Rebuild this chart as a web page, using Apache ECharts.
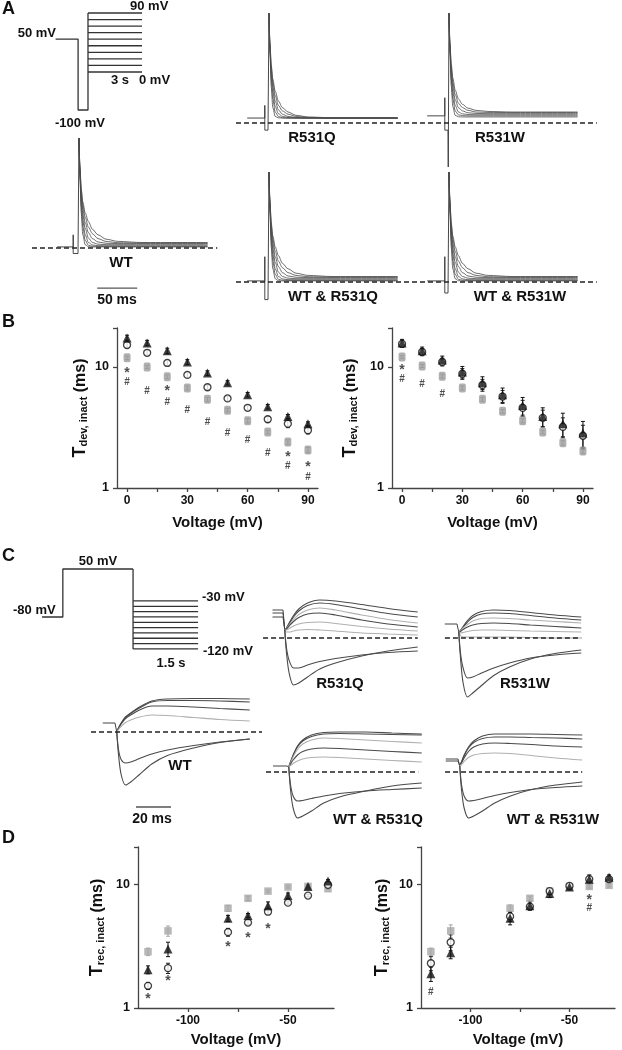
<!DOCTYPE html>
<html><head><meta charset="utf-8">
<script src="https://cdn.jsdelivr.net/npm/echarts@6/dist/echarts.min.js"></script>
<style>html,body{margin:0;padding:0;background:#fff}#c{width:622px;height:1050px}</style>
</head><body><div id="c"></div>
<script>
// ================= DATA =================
// Panel B : time constant of development of inactivation (ms) vs voltage (mV)
const B_VOLT = [0,10,20,30,40,50,60,70,80,90];
const B1_WT      = [15.2,13.1,10.8,8.6,6.8,5.5,4.6,3.7,3.4,3.0];
const B1_WT_ERR  = [0.8,0.6,0.5,0.4,0.3,0.25,0.2,0.2,0.25,0.2];
const B1_MUT     = [11.9,10.0,8.3,6.7,5.4,4.4,3.6,2.9,2.4,2.06];
const B1_MUT_ERR = [0.4,0.3,0.3,0.25,0.2,0.15,0.15,0.1,0.1,0.1];
const B1_MIX     = [17.4,15.8,13.6,11.0,8.9,7.4,5.9,4.7,3.9,3.4];
const B1_MIX_ERR = [0.9,0.8,0.7,0.5,0.4,0.3,0.25,0.2,0.15,0.12];
const B1_STAR_V  = [0,20,80,90];
const B1_STAR    = [9.4,6.7,1.91,1.58];
const B1_HASH_V  = [0,10,20,30,40,50,60,70,80,90];
const B1_HASH    = [7.5,6.3,5.1,4.4,3.5,2.85,2.5,1.95,1.52,1.23];

const B2_WT      = [15.5,13.3,11.0,8.8,7.1,5.7,4.6,3.8,3.2,2.7];
const B2_WT_ERR  = [0.9,0.9,0.8,0.9,0.8,0.7,0.7,0.6,0.6,0.6];
const B2_MUT     = [12.1,10.2,8.4,6.7,5.4,4.3,3.6,2.9,2.36,2.02];
const B2_MUT_ERR = [0.3,0.3,0.3,0.25,0.2,0.15,0.15,0.1,0.1,0.1];
const B2_MIX     = [15.8,13.6,11.4,9.1,7.4,5.9,4.8,3.9,3.4,2.85];
const B2_MIX_ERR = [1.1,1.0,0.9,1.0,0.9,0.8,0.8,0.7,0.75,0.7];
const B2_STAR_V  = [0];
const B2_STAR    = [10.0];
const B2_HASH_V  = [0,10,20];
const B2_HASH    = [7.9,7.2,5.95];

// Panel D : time constant of recovery from inactivation (ms) vs voltage (mV)
const D_VOLT = [-120,-110,-80,-70,-60,-50,-40,-30];
const D1_WT      = [1.51,2.1,4.1,4.9,6.0,7.1,8.1,9.9];
const D1_WT_ERR  = [0.1,0.2,0.3,0.2,0.3,0.2,0.2,0.2];
const D1_MUT     = [2.85,4.2,6.4,7.7,8.8,9.5,9.6,9.2];
const D1_MUT_ERR = [0.2,0.4,0.35,0.3,0.2,0.2,0.2,0.2];
const D1_MIX     = [2.04,3.0,5.3,5.6,6.7,8.1,9.6,10.6];
const D1_MIX_ERR = [0.15,0.4,0.3,0.2,0.5,0.4,0.3,0.3];
const D1_STAR_V  = [-120,-110,-80,-70,-60];
const D1_STAR    = [1.25,1.75,3.3,3.9,4.6];
const D1_HASH_V  = [];
const D1_HASH    = [];

const D2_WT      = [2.3,3.4,5.5,6.6,8.8,9.7,11.0,11.0];
const D2_WT_ERR  = [0.3,0.5,0.5,0.4,0.5,0.4,0.6,0.4];
const D2_MUT     = [2.85,4.2,6.4,7.7,8.8,9.6,9.6,9.8];
const D2_MUT_ERR = [0.2,0.5,0.4,0.3,0.3,0.3,0.3,0.3];
const D2_MIX     = [1.89,2.8,5.3,6.7,8.4,9.5,11.0,11.4];
const D2_MIX_ERR = [0.25,0.3,0.6,0.5,0.6,0.5,0.9,0.5];
const D2_STAR_V  = [-40];
const D2_STAR    = [7.8];
const D2_HASH_V  = [-120,-40];
const D2_HASH    = [1.35,6.4];

// Panel A : normalised current traces (time in ms from step onset)
const TA = [1.2,2.5,4,6,9,13,18,25,35,50,80,162];
const A_TR_WT = [
  [1,0.62,0.32,0.12,0.03,0.012,0.01,0.01,0.01,0.01,0.01,0.01],
  [1,0.65,0.38,0.19,0.07,0.025,0.016,0.015,0.015,0.015,0.015,0.015],
  [1,0.67,0.42,0.25,0.12,0.05,0.028,0.021,0.02,0.02,0.02,0.02],
  [1,0.69,0.46,0.30,0.18,0.09,0.05,0.035,0.03,0.03,0.03,0.03],
  [1,0.71,0.49,0.35,0.23,0.14,0.085,0.055,0.043,0.04,0.04,0.04],
  [1,0.72,0.52,0.39,0.28,0.19,0.13,0.085,0.06,0.048,0.045,0.045],
  [1,0.73,0.54,0.42,0.32,0.24,0.17,0.12,0.08,0.06,0.05,0.05]
];
const A_TR_Q = [
  [1,0.62,0.33,0.14,0.06,0.047,0.045,0.045,0.045,0.045,0.045,0.045],
  [1,0.65,0.40,0.22,0.10,0.06,0.048,0.045,0.045,0.045,0.045,0.045],
  [1,0.67,0.44,0.28,0.15,0.085,0.06,0.05,0.046,0.045,0.045,0.045],
  [1,0.69,0.48,0.33,0.20,0.12,0.08,0.06,0.05,0.046,0.045,0.045],
  [1,0.71,0.51,0.37,0.25,0.16,0.11,0.08,0.06,0.05,0.045,0.045],
  [1,0.72,0.53,0.40,0.29,0.20,0.14,0.10,0.07,0.055,0.047,0.045]
];
const A_TR_W = [
  [1,0.62,0.34,0.15,0.07,0.057,0.055,0.055,0.055,0.055,0.055,0.055],
  [1,0.65,0.40,0.22,0.11,0.075,0.067,0.065,0.065,0.065,0.065,0.065],
  [1,0.67,0.44,0.28,0.16,0.10,0.083,0.077,0.075,0.075,0.075,0.075],
  [1,0.69,0.48,0.33,0.21,0.14,0.11,0.093,0.087,0.085,0.085,0.085],
  [1,0.71,0.51,0.37,0.26,0.18,0.14,0.115,0.10,0.096,0.095,0.095],
  [1,0.72,0.54,0.41,0.30,0.22,0.17,0.135,0.115,0.105,0.10,0.10]
];
const A_PRE_WT = [[-26,0.01],[-6,0.01],[-6,0.12],[-6,-0.05],[0,-0.05],[1.2,1]];
const A_PRE_Q  = [[-26,0.045],[-4,0.045],[-4,0.16],[-4,-0.065],[0,-0.065],[1.2,1]];
const A_PRE_W  = [[-26,0.065],[-4,0.065],[-4,0.23],[-4,-0.065],[0,-0.065],[0.3,-0.4],[1.2,1]];
const A_PRE_WQ = [[-26,0.01],[-4,0.01],[-4,0.23],[-4,-0.16],[0,-0.16],[1.2,1]];
const A_PRE_WW = [[-26,0.01],[-4,0.01],[-4,0.23],[-4,-0.1],[0,-0.1],[1.2,1]];

// Panel C : normalised current traces (time in ms from step onset)
const T_C  = [1,2,3.5,6,9,14,21,30,45,60,77];
const T_CW = [1,2,3.5,6,9,14,21,30,42,56,71];
const C_TR_WT = [
  [0.0,0.08,0.18,0.30,0.38,0.50,0.62,0.66,0.67,0.67,0.66],
  [0.0,0.08,0.17,0.29,0.37,0.48,0.60,0.63,0.63,0.62,0.60],
  [0.0,0.07,0.16,0.27,0.34,0.44,0.52,0.52,0.50,0.47,0.44],
  [0.0,0.05,0.11,0.19,0.24,0.30,0.34,0.33,0.29,0.25,0.22],
  [0.0,-0.45,-0.85,-1.06,-1.0,-0.85,-0.64,-0.47,-0.32,-0.21,-0.14],
  [0.0,-0.35,-0.55,-0.62,-0.6,-0.53,-0.44,-0.36,-0.27,-0.2,-0.14]
];
const C_SHADE_WT = [0,0,0,1,0,0];
const C_TR_Q = [
  [0.16,0.2,0.3,0.45,0.58,0.7,0.76,0.74,0.67,0.59,0.52],
  [0.16,0.2,0.28,0.42,0.54,0.65,0.70,0.67,0.58,0.49,0.42],
  [0.16,0.19,0.26,0.37,0.47,0.56,0.60,0.56,0.46,0.37,0.30],
  [0.16,0.18,0.24,0.33,0.41,0.48,0.50,0.46,0.36,0.28,0.22],
  [0.16,0.16,0.19,0.24,0.28,0.31,0.32,0.29,0.23,0.18,0.14],
  [0.16,0.12,0.12,0.14,0.16,0.17,0.16,0.14,0.10,0.08,0.06],
  [0.16,-0.3,-0.7,-0.94,-0.9,-0.78,-0.62,-0.5,-0.36,-0.26,-0.18],
  [0.16,-0.2,-0.45,-0.6,-0.6,-0.54,-0.47,-0.41,-0.34,-0.29,-0.26]
];
const C_SHADE_Q = [0,0,1,0,1,1,0,0];
const C_TR_W = [
  [0.12,0.15,0.23,0.35,0.45,0.53,0.56,0.55,0.51,0.46,0.42],
  [0.12,0.15,0.22,0.32,0.41,0.48,0.50,0.49,0.45,0.40,0.36],
  [0.12,0.14,0.2,0.27,0.34,0.39,0.40,0.39,0.36,0.33,0.30],
  [0.12,0.13,0.17,0.22,0.26,0.29,0.30,0.29,0.26,0.23,0.20],
  [0.12,0.1,0.11,0.13,0.15,0.16,0.16,0.15,0.14,0.13,0.12],
  [0.12,0.05,0.02,0.02,0.02,0.02,0.02,0.02,0.01,0.0,0.0],
  [0.12,-0.4,-0.9,-1.18,-1.1,-0.95,-0.75,-0.58,-0.42,-0.31,-0.24],
  [0.12,-0.3,-0.6,-0.8,-0.78,-0.7,-0.6,-0.5,-0.4,-0.34,-0.3]
];
const C_SHADE_W = [0,0,1,0,1,1,0,0];
const C_TR_WQ = [
  [0.1,0.2,0.34,0.52,0.64,0.74,0.79,0.8,0.8,0.78,0.76],
  [0.1,0.2,0.33,0.5,0.62,0.71,0.76,0.77,0.76,0.75,0.74],
  [0.1,0.18,0.3,0.45,0.56,0.64,0.68,0.67,0.64,0.61,0.58],
  [0.1,0.16,0.24,0.34,0.41,0.46,0.48,0.47,0.44,0.41,0.38],
  [0.1,0.13,0.17,0.22,0.26,0.29,0.30,0.29,0.26,0.23,0.20],
  [0.1,-0.35,-0.72,-0.92,-0.88,-0.78,-0.62,-0.5,-0.38,-0.28,-0.22],
  [0.1,-0.25,-0.48,-0.58,-0.57,-0.53,-0.48,-0.43,-0.38,-0.35,-0.32]
];
const C_SHADE_WQ = [0,0,1,0,1,0,0];
const C_TR_WW = [
  [0.12,0.2,0.34,0.5,0.62,0.72,0.76,0.76,0.76,0.75,0.74],
  [0.12,0.2,0.32,0.48,0.59,0.67,0.70,0.70,0.69,0.68,0.66],
  [0.12,0.18,0.28,0.41,0.5,0.56,0.58,0.57,0.55,0.52,0.50],
  [0.12,0.15,0.21,0.29,0.34,0.37,0.38,0.37,0.33,0.28,0.24],
  [0.12,-0.35,-0.72,-0.92,-0.88,-0.78,-0.62,-0.48,-0.35,-0.26,-0.2],
  [0.12,-0.25,-0.48,-0.58,-0.57,-0.53,-0.47,-0.41,-0.35,-0.31,-0.28]
];
const C_SHADE_WW = [0,0,0,1,0,0];
const C_PRE_WT = [[[-7,0.18],[0,0.18],[1,0]]];
const C_PRE_Q  = [[[-6,0.56],[0,0.56],[1,0.16]],[[-6,0.5],[0,0.5],[1,0.16]],[[-6,0.42],[0,0.42],[1,0.16]]];
const C_PRE_W  = [[[-7,0.28],[0,0.28],[1,0.12]]];
const C_PRE_WQ = [[[-8,0.12],[0,0.12],[1,0.1]]];
const C_PRE_WW = [[[-7,0.26],[0,0.26],[1,0.12]],[[-7,0.22],[0,0.22],[1,0.12]]];

// Voltage protocols (time in s, schematic; potential in mV)
const PROTO_A_PATH  = [[-1.8,50],[-0.55,50],[-0.55,-100],[0,-100],[0,90]];
const PROTO_A_STEPS = [0,10,20,30,40,50,60,70,80,90];
const PROTO_A_DUR   = 3;
const PROTO_C_HOLD  = [[-2.1,-80],[-1.62,-80],[-1.62,50],[0,50]];   // prepulse part (own schematic scale)
const PROTO_C_DROP  = [[0,50],[0,-120]];
const PROTO_C_STEPS = [-30,-40,-50,-60,-70,-80,-90,-100,-110,-120];
const PROTO_C_DUR   = 1.5;

const SCALE_A_MS = 50;
const SCALE_C_MS = 20;

// ================= BUILD =================
const FONT = '"Liberation Sans", Arial, Helvetica, sans-serif';
const AX = {color:'#444', width:1.3};
const TEXT = '#111';
const DARK = '#4a4a4a', LIGHT = '#b0b0b0';
const grids = [], xAxes = [], yAxes = [], series = [], graphics = [];

function zip(t, v){ return t.map((x,i)=>[x, v[i]]); }
function addGrid(g, xa, ya){
  grids.push(g); const gi = grids.length - 1;
  xa.gridIndex = gi; ya.gridIndex = gi; xAxes.push(xa); yAxes.push(ya); return gi;
}
function hiddenAxis(min, max, extra){ return Object.assign({type:'value', min, max, show:false}, extra||{}); }
function lineS(gi, data, o){
  const s = {type:'line', xAxisIndex:gi, yAxisIndex:gi, data, symbol:'none', showSymbol:false,
    smooth:o.smooth||false, silent:true, z:o.z||2,
    lineStyle:{color:o.color, width:o.width, type:o.type||'solid'}};
  if (o.mono) s.smoothMonotone = 'x';
  series.push(s);
}
function isPow10(v){ const l = Math.log10(v); return Math.abs(l - Math.round(l)) < 1e-6; }

function scatterPanel(p){
  const gi = addGrid({left:p.left, top:p.top, width:p.width, height:p.height},
    {type:'value', min:p.xmin, max:p.xmax, name:'Voltage (mV)', nameLocation:'middle', nameGap:p.xNameGap,
     nameTextStyle:{fontSize:15, fontWeight:'bold', color:TEXT, fontFamily:FONT},
     axisLine:{onZero:false, lineStyle:AX},
     axisTick:{length:4, lineStyle:AX, customValues:p.xTicks},
     axisLabel:{customValues:p.xLabels, fontSize:12, fontWeight:'bold', color:TEXT, margin:7, fontFamily:FONT},
     splitLine:{show:false}},
    {type:'log', logBase:10, min:1, max:p.ymax,
     name:'{t|T}{s|' + p.sub + '}{m| (ms)}', nameLocation:'middle', nameRotate:90, nameGap:p.yNameGap,
     nameTextStyle:{rich:{
       t:{fontSize:18, fontWeight:'bold', color:TEXT, fontFamily:FONT, lineHeight:22, verticalAlign:'bottom'},
       s:{fontSize:11, fontWeight:'bold', color:TEXT, fontFamily:FONT, lineHeight:15, verticalAlign:'bottom'},
       m:{fontSize:16, fontWeight:'bold', color:TEXT, fontFamily:FONT, lineHeight:22, verticalAlign:'bottom'}}},
     axisLine:{onZero:false, lineStyle:AX}, axisTick:{length:4, lineStyle:AX},
     axisLabel:{formatter:v => isPow10(v) ? String(Math.round(v)) : '', fontSize:12.5, fontWeight:'bold', color:TEXT, margin:8, fontFamily:FONT},
     splitLine:{show:false}});
  const err = (vals, errs, color, z) => series.push({type:'custom', xAxisIndex:gi, yAxisIndex:gi, silent:true, z,
    encode:{x:0, y:1},
    data:p.volts.map((v,i)=>[v, vals[i], errs[i]]),
    renderItem:(params, api)=>{
      const x = api.value(0), y = api.value(1), e = api.value(2);
      const lo = api.coord([x, Math.max(y - e, 1.001)]), hi = api.coord([x, y + e]);
      const st = {stroke:color, lineWidth:1};
      return {type:'group', children:[
        {type:'line', shape:{x1:lo[0], y1:lo[1], x2:hi[0], y2:hi[1]}, style:st},
        {type:'line', shape:{x1:lo[0]-2, y1:lo[1], x2:lo[0]+2, y2:lo[1]}, style:st},
        {type:'line', shape:{x1:hi[0]-2, y1:hi[1], x2:hi[0]+2, y2:hi[1]}, style:st}]};
    }});
  const sc = (name, vals, o) => series.push(Object.assign({type:'scatter', name, xAxisIndex:gi, yAxisIndex:gi, silent:true,
    data:zip(p.volts, vals)}, o));
  err(p.mut, p.mutErr, p.grayColor, 1);
  err(p.wt, p.wtErr, '#222', 1);
  err(p.mix, p.mixErr, '#111', 1);
  sc(p.mutName, p.mut, {symbol:p.graySymbol, symbolSize:p.graySize, itemStyle:{color:p.grayColor}, z:2});
  sc('WT', p.wt, {symbol:'circle', symbolSize:7, itemStyle:{color:'#fff', borderColor:'#111', borderWidth:1.3}, z:3});
  sc('WT & ' + p.mutName, p.mix, {symbol:'triangle', symbolSize:9, itemStyle:{color:'#111'}, z:4});
  const mark = (xs, ys, ch, size, dy) => series.push({type:'scatter', xAxisIndex:gi, yAxisIndex:gi, silent:true, z:6,
    data:zip(xs, ys), symbol:'circle', symbolSize:0.1, itemStyle:{color:'rgba(0,0,0,0)'},
    label:{show:true, position:'inside', formatter:ch, fontSize:size, fontWeight:'bold', color:'#222', fontFamily:FONT, offset:[0, dy]}});
  mark(p.starV, p.star, '*', 14, 3);
  mark(p.hashV, p.hash, '#', 10, 0);
}

const B_COMMON = {xmin:-5, xmax:95, ymax:21, xTicks:[0,15,30,45,60,75,90], xLabels:[0,30,60,90], xNameGap:27,
  sub:'dev, inact', volts:B_VOLT, graySymbol:'roundRect', graySize:[7,9], grayColor:'#9c9c9c'};
scatterPanel(Object.assign({}, B_COMMON, {left:117, top:328, width:201, height:160, yNameGap:28, mutName:'R531Q',
  wt:B1_WT, wtErr:B1_WT_ERR, mut:B1_MUT, mutErr:B1_MUT_ERR, mix:B1_MIX, mixErr:B1_MIX_ERR,
  starV:B1_STAR_V, star:B1_STAR, hashV:B1_HASH_V, hash:B1_HASH}));
scatterPanel(Object.assign({}, B_COMMON, {left:392, top:328, width:201, height:160, yNameGap:33, mutName:'R531W',
  wt:B2_WT, wtErr:B2_WT_ERR, mut:B2_MUT, mutErr:B2_MUT_ERR, mix:B2_MIX, mixErr:B2_MIX_ERR,
  starV:B2_STAR_V, star:B2_STAR, hashV:B2_HASH_V, hash:B2_HASH}));
const D_COMMON = {xmin:-125, xmax:-27, ymax:20, xTicks:[-100,-75,-50], xLabels:[-100,-50], xNameGap:24,
  sub:'rec, inact', volts:D_VOLT, graySymbol:'rect', graySize:[7.5,7.5], grayColor:'#a6a6a6'};
scatterPanel(Object.assign({}, D_COMMON, {left:138, top:847, width:196, height:161, yNameGap:32, mutName:'R531Q',
  wt:D1_WT, wtErr:D1_WT_ERR, mut:D1_MUT, mutErr:D1_MUT_ERR, mix:D1_MIX, mixErr:D1_MIX_ERR,
  starV:D1_STAR_V, star:D1_STAR, hashV:D1_HASH_V, hash:D1_HASH}));
scatterPanel(Object.assign({}, D_COMMON, {left:421, top:847, width:194, height:161, yNameGap:30, mutName:'R531W',
  wt:D2_WT, wtErr:D2_WT_ERR, mut:D2_MUT, mutErr:D2_MUT_ERR, mix:D2_MIX, mixErr:D2_MIX_ERR,
  starV:D2_STAR_V, star:D2_STAR, hashV:D2_HASH_V, hash:D2_HASH}));

// ---- Panel A traces (0.8 px/ms, 110 px per unit) ----
function tracePanelA(p){
  const gi = addGrid({left:p.x0 - 48, top:p.y0 - 115.5, width:200, height:170.5}, hiddenAxis(-60,190), hiddenAxis(-0.5,1.05));
  lineS(gi, p.pre, {color:'#333', width:0.9});
  p.traces.forEach(tr => lineS(gi, zip(TA, tr), {color:DARK, width:0.8, smooth:0.3, mono:true}));
  lineS(gi, [[p.dash[0],0],[p.dash[1],0]], {color:'#222', width:1.4, type:[5,3], z:3});
  return gi;
}
const gWT_A = tracePanelA({x0:78,  y0:248, pre:A_PRE_WT, traces:A_TR_WT, dash:[-57.5,174]});
tracePanelA({x0:268, y0:123, pre:A_PRE_Q,  traces:A_TR_Q,  dash:[-40,190]});
tracePanelA({x0:448, y0:123, pre:A_PRE_W,  traces:A_TR_W,  dash:[-35,186]});
tracePanelA({x0:268, y0:282, pre:A_PRE_WQ, traces:A_TR_WT, dash:[-40,190]});
tracePanelA({x0:448, y0:282, pre:A_PRE_WW, traces:A_TR_WT, dash:[-35,186]});
lineS(gWT_A, [[24,-0.364],[24 + SCALE_A_MS,-0.364]], {color:'#555', width:1.3});

// ---- Panel C traces (1.75 px/ms, 50 px per unit) ----
function tracePanelC(p){
  const gi = addGrid({left:p.x0 - 26.25, top:p.y0 - 45, width:175, height:125}, hiddenAxis(-15,85), hiddenAxis(-1.6,0.9));
  p.pre.forEach(pr => lineS(gi, pr, {color:'#444', width:1}));
  p.traces.forEach((tr,i) => lineS(gi, zip(p.t, tr), {color:p.shade[i] ? LIGHT : DARK, width:1.1, smooth:0.3}));
  lineS(gi, [[p.dash[0],0],[p.dash[1],0]], {color:'#222', width:1.4, type:[5,3], z:3});
  return gi;
}
const gWT_C = tracePanelC({x0:115, y0:732, t:T_C,  pre:C_PRE_WT, traces:C_TR_WT, shade:C_SHADE_WT, dash:[-13.7,84]});
tracePanelC({x0:283, y0:638, t:T_C,  pre:C_PRE_Q,  traces:C_TR_Q,  shade:C_SHADE_Q,  dash:[-11.4,77]});
tracePanelC({x0:457, y0:638, t:T_CW, pre:C_PRE_W,  traces:C_TR_W,  shade:C_SHADE_W,  dash:[-6.9,71]});
tracePanelC({x0:287, y0:772, t:T_C,  pre:C_PRE_WQ, traces:C_TR_WQ, shade:C_SHADE_WQ, dash:[-12,75]});
tracePanelC({x0:458, y0:772, t:T_CW, pre:C_PRE_WW, traces:C_TR_WW, shade:C_SHADE_WW, dash:[-7.4,71]});
lineS(gWT_C, [[12,-1.5],[12 + SCALE_C_MS,-1.5]], {color:'#555', width:1.3});

// ---- Protocols ----
const gPA = addGrid({left:52, top:9.7, width:93.6, height:103.6}, hiddenAxis(-2,3.2),
  hiddenAxis(-105,95,{breaks:[{start:-95, end:-5, gap:48}], breakArea:{show:false}}));
lineS(gPA, PROTO_A_PATH, {color:'#333', width:1.3});
PROTO_A_STEPS.forEach(L => lineS(gPA, [[0,L],[PROTO_A_DUR,L]], {color:'#333', width:1.3}));
const gPC = addGrid({left:37.7, top:566.3, width:164.7, height:85.3}, hiddenAxis(-2.2,1.6),
  hiddenAxis(-125,55,{breaks:[{start:-25, end:45, gap:50}], breakArea:{show:false}}));
lineS(gPC, PROTO_C_DROP, {color:'#333', width:1.3});
PROTO_C_STEPS.forEach(L => lineS(gPC, [[0,L],[PROTO_C_DUR,L]], {color:'#333', width:1.3}));
const gPH = addGrid({left:37.7, top:565.3, width:164.7, height:55.4}, hiddenAxis(-2.2,1.6), hiddenAxis(-90,60));
lineS(gPH, PROTO_C_HOLD, {color:'#333', width:1.3});

// ---- Text labels ----
const LABELS = [
  ['A', 2, 9, 18, 'left'], ['B', 2, 322, 18, 'left'], ['C', 2, 556, 18, 'left'], ['D', 2, 838, 18, 'left'],
  ['50 mV', 56, 33, 13, 'right'], ['90 mV', 130, 6, 13, 'left'], ['0 mV', 139, 80, 13, 'left'],
  ['3 s', 120, 80, 13, 'center'], ['-100 mV', 55, 123, 13, 'left'],
  ['WT', 121, 263, 15, 'center'], ['50 ms', 117, 300, 14, 'center'],
  ['R531Q', 312, 138, 15, 'center'], ['R531W', 500, 138, 15, 'center'],
  ['WT & R531Q', 333, 297, 15, 'center'], ['WT & R531W', 520, 297, 15, 'center'],
  ['50 mV', 98, 561, 13, 'center'], ['-80 mV', 13, 610, 13, 'left'], ['-30 mV', 202, 597, 13, 'left'],
  ['-120 mV', 203, 651, 13, 'left'], ['1.5 s', 171, 663, 13, 'center'],
  ['WT', 180, 766, 15, 'center'], ['20 ms', 152, 819, 14, 'center'],
  ['R531Q', 340, 684, 15, 'center'], ['R531W', 525, 684, 15, 'center'],
  ['WT & R531Q', 378, 820, 15, 'center'], ['WT & R531W', 553, 820, 15, 'center']
];
LABELS.forEach(([t, x, y, s, a]) => graphics.push({type:'text', x, y, silent:true, z:10,
  style:{text:t, fill:TEXT, font:'bold ' + s + 'px ' + FONT, textAlign:a, align:a, textVerticalAlign:'middle', verticalAlign:'middle'}}));

const chart = echarts.init(document.getElementById('c'), null, {renderer:'canvas'});
chart.setOption({animation:false, backgroundColor:'#fff', textStyle:{fontFamily:FONT},
  grid:grids, xAxis:xAxes, yAxis:yAxes, series, graphic:graphics});
</script></body></html>
